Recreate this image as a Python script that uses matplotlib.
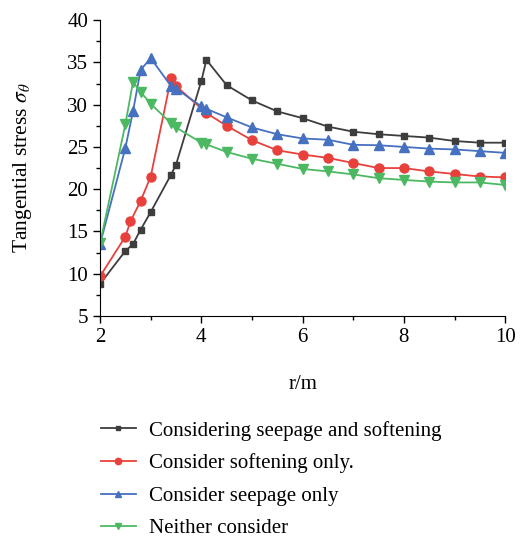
import matplotlib.pyplot as plt
from matplotlib.ticker import MultipleLocator

plt.rcParams['font.family'] = ['Liberation Serif', 'DejaVu Serif']
plt.rcParams['mathtext.fontset'] = 'stix'

# radial distance r (m) and tangential stress for each case
r_both = [2, 2.5, 2.65, 2.8, 3.0, 3.4, 3.5, 4.0, 4.1, 4.5, 5, 5.5, 6, 6.5, 7, 7.5, 8, 8.5, 9, 9.5, 10]
s_both = [8.8, 12.7, 13.5, 15.2, 17.3, 21.7, 22.9, 32.8, 35.3, 32.3, 30.5, 29.2, 28.4, 27.4, 26.8, 26.5, 26.3, 26.1, 25.7, 25.5, 25.5]

r_soft = [2, 2.5, 2.6, 2.8, 3.0, 3.4, 3.5, 4.1, 4.5, 5, 5.5, 6, 6.5, 7, 7.5, 8, 8.5, 9, 9.5, 10]
s_soft = [9.7, 14.4, 16.2, 18.6, 21.5, 33.1, 32.2, 29.0, 27.5, 25.8, 24.6, 24.1, 23.7, 23.1, 22.5, 22.5, 22.1, 21.8, 21.5, 21.4]

r_seep = [2, 2.5, 2.65, 2.8, 3.0, 3.4, 3.5, 4.0, 4.1, 4.5, 5, 5.5, 6, 6.5, 7, 7.5, 8, 8.5, 9, 9.5, 10]
s_seep = [13.5, 24.9, 29.2, 34.1, 35.5, 32.2, 31.9, 29.8, 29.5, 28.5, 27.3, 26.5, 26.0, 25.85, 25.25, 25.2, 25.0, 24.8, 24.7, 24.5, 24.3]

r_none = [2, 2.5, 2.65, 2.8, 3.0, 3.4, 3.5, 4.0, 4.1, 4.5, 5, 5.5, 6, 6.5, 7, 7.5, 8, 8.5, 9, 9.5, 10]
s_none = [13.6, 27.7, 32.7, 31.5, 30.1, 27.8, 27.3, 25.5, 25.3, 24.4, 23.6, 23.0, 22.4, 22.1, 21.75, 21.3, 21.1, 20.9, 20.8, 20.8, 20.5]

labels = ['Considering seepage and softening', 'Consider softening only.',
          'Consider seepage only', 'Neither consider']

fig = plt.figure(figsize=(5.24, 5.43), dpi=100)
ax = fig.add_axes([0.191, 0.418, 0.773, 0.545])

ax.plot(r_both, s_both, color='#3d3d3d', marker='s', ms=5, lw=1.3, label=labels[0])
ax.plot(r_soft, s_soft, color='#e8413c', marker='o', ms=6.5, lw=1.3, label=labels[1])
ax.plot(r_seep, s_seep, color='#4670c0', marker='^', ms=7, lw=1.3, label=labels[2])
ax.plot(r_none, s_none, color='#4cb962', marker='v', ms=7, lw=1.3, label=labels[3])

ax.set_xlim(2, 10)
ax.set_ylim(5, 40)
ax.xaxis.set_major_locator(MultipleLocator(2))
ax.xaxis.set_minor_locator(MultipleLocator(1))
ax.yaxis.set_major_locator(MultipleLocator(5))
ax.yaxis.set_minor_locator(MultipleLocator(2.5))
ax.tick_params(which='both', direction='out', labelsize=15, width=1)
ax.tick_params(which='major', length=5)
ax.tick_params(which='minor', length=3)
for side in ['top', 'right']:
    ax.spines[side].set_visible(False)

ax.set_xlabel('r/m', fontsize=15, labelpad=20)
ax.set_ylabel(r'Tangential stress $\sigma_\theta$', fontsize=15.5, labelpad=24)

ax.legend(loc='upper left', bbox_to_anchor=(-0.045, -0.29), frameon=False,
          fontsize=15, handlelength=1.7, labelspacing=0.62, handletextpad=0.6,
          markerscale=0.7)

fig.savefig('out.png', dpi=100)
